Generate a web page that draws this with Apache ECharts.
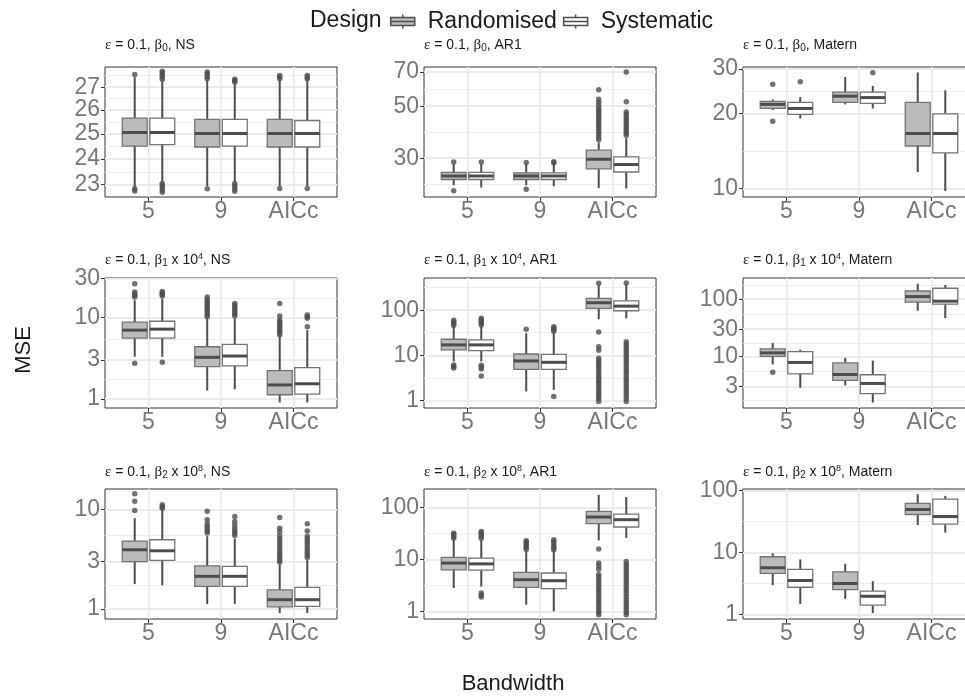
<!DOCTYPE html>
<html>
<head>
<meta charset="utf-8">
<title>MSE by bandwidth</title>
<script src="https://cdn.jsdelivr.net/npm/echarts@6/dist/echarts.min.js"></script>
<style>
  html, body { margin: 0; padding: 0; background: #fff; }
  #main { width: 965px; height: 696px; }
</style>
</head>
<body>
<div id="main"></div>
<script>
var categories = ['5', '9', 'AICc'];

// five-number summaries [min, q1, median, q3, max] for bandwidth 5, 9, AICc
// outliers listed per bandwidth
var b0NsRand = [[22.9, 24.51, 25.06, 25.66, 27.45], [22.95, 24.47, 25.02, 25.61, 27.3], [22.95, 24.47, 25.02, 25.61, 27.3]];
var b0NsSys = [[23.1, 24.57, 25.06, 25.66, 27.3], [23.1, 24.51, 25.02, 25.61, 27.15], [22.95, 24.47, 25.02, 25.56, 27.3]];
var b0NsRandOut = [[27.57, 22.85, 22.76], [27.38, 27.48, 27.6, 27.68, 22.85], [27.38, 27.45, 27.52, 22.86]];
var b0NsSysOut = [[27.35, 27.45, 27.55, 27.65, 27.72, 23.05, 22.98, 22.9, 22.8, 22.72], [27.22, 27.3, 27.35, 23.05, 22.95, 22.85, 22.75], [27.38, 27.45, 27.52, 22.86]];

var b0Ar1Rand = [[23.0, 24.35, 25.2, 26.1, 28.4], [23.0, 24.35, 25.2, 26.0, 28.3], [22.4, 27.0, 29.7, 32.5, 35]];
var b0Ar1Sys = [[22.5, 24.35, 25.2, 26.1, 28.5], [22.8, 24.35, 25.2, 26.0, 28.4], [22.3, 26.2, 28.2, 30.4, 36.5]];
var b0Ar1RandOut = [[28.9, 21.8], [28.8, 22.1], [36, 37, 38, 39, 40, 41, 42, 43, 44, 45, 46, 47, 48, 49, 50.5, 52, 53.5, 58.8]];
var b0Ar1SysOut = [[28.9], [28.7, 29.0], [37.5, 38.3, 39.2, 40, 41, 42, 43, 44, 45, 46.2, 47.3, 52.3, 70]];

var b0MatRand = [[20.6, 20.9, 21.7, 22.3, 22.7], [21.7, 22.1, 23.4, 24.3, 27.9], [11.65, 14.8, 16.6, 22.1, 29.1]];
var b0MatSys = [[19.05, 19.8, 20.9, 22.1, 23.2], [20.9, 21.9, 23.1, 24.3, 25.7], [9.78, 13.9, 16.6, 19.9, 24.7]];
var b0MatRandOut = [[26.1, 18.6], [], []];
var b0MatSysOut = [[26.7], [29.0], []];

var b1NsRand = [[3.3, 5.59, 7.0, 8.77, 16.3], [1.27, 2.5, 3.25, 4.38, 9.7], [0.91, 1.13, 1.49, 2.23, 5.8]];
var b1NsSys = [[3.3, 5.6, 7.2, 9.0, 17.0], [1.32, 2.55, 3.37, 4.68, 9.8], [0.91, 1.15, 1.54, 2.43, 7.0]];
var b1NsRandOut = [[17.8, 18.8, 19.6, 20.5, 26.0, 2.75], [10.2, 10.8, 11.5, 12.2, 13, 13.8, 14.7, 15.6, 16.6, 17.8], [6.1, 6.5, 6.9, 7.3, 7.8, 8.3, 8.8, 9.3, 10.4, 14.8]];
var b1NsSysOut = [[18.3, 19.2, 20.0, 20.9, 2.83], [10.4, 11.0, 11.7, 12.4, 13.2, 14.0, 14.8], [7.7, 9.8, 10.3, 10.7]];

var b1Ar1Rand = [[7.3, 13.2, 17, 22.7, 43], [1.58, 4.9, 7.5, 10.7, 31], [62.7, 110, 146, 182, 360]];
var b1Ar1Sys = [[7.3, 12.7, 17, 21.9, 44], [1.72, 4.9, 7.0, 10.5, 31], [66, 97, 123, 161, 370]];
var b1Ar1RandOut = [[46, 50, 55, 60, 6.1, 5.6, 5.2], [37.7], [395, 33, 15.5, 13, 8.6, 7.6, 6.7, 5.9, 5.2, 4.6, 4.0, 3.5, 3.1, 2.7, 2.4, 2.1, 1.85, 1.6, 1.4, 1.25, 1.1, 0.95]];
var b1Ar1SysOut = [[47, 51, 56, 61, 66, 6.0, 5.5, 5.0, 3.5], [34, 37, 40, 43, 1.22], [400, 20, 17.5, 15.5, 13.5, 12, 10.5, 9.3, 8.2, 7.2, 6.3, 5.5, 4.8, 4.2, 3.7, 3.2, 2.8, 2.45, 2.15, 1.9, 1.65, 1.45, 1.27, 1.1, 0.95]];

var b1MatRand = [[7.3, 10.1, 11.6, 13.6, 17.3], [3.14, 3.84, 4.87, 7.76, 9.5], [62.7, 88.7, 111, 139, 186]];
var b1MatSys = [[2.87, 5.0, 7.9, 12.2, 13.2], [1.58, 2.26, 3.4, 4.82, 8.5], [46.8, 81.8, 92.3, 155, 177]];
var b1MatRandOut = [[5.35], [], []];
var b1MatSysOut = [[], [], []];

var b2NsRand = [[1.78, 3.0, 3.94, 4.82, 8.2], [1.12, 1.69, 2.13, 2.72, 5.4], [0.91, 1.05, 1.24, 1.56, 2.79]];
var b2NsSys = [[1.73, 3.08, 3.85, 4.97, 9.9], [1.12, 1.69, 2.13, 2.68, 5.1], [0.91, 1.06, 1.24, 1.65, 3.1]];
var b2NsRandOut = [[9.8, 12.1, 14.4], [5.8, 6.1, 6.4, 6.8, 7.2, 7.9, 9.6], [2.95, 3.1, 3.3, 3.5, 3.7, 3.95, 4.2, 4.5, 4.8, 5.1, 5.5, 6.0, 6.5, 8.3]];
var b2NsSysOut = [[10.3, 10.7, 11.2], [5.5, 5.8, 6.1, 6.5, 7.0, 7.6, 8.5], [3.3, 3.5, 3.7, 3.95, 4.2, 4.5, 4.8, 5.1, 5.4, 6.1, 7.2]];

var b2Ar1Rand = [[2.82, 6.3, 8.5, 10.9, 23.9], [1.35, 2.9, 4.07, 5.62, 14.3], [23.2, 48.6, 65.3, 83.8, 175]];
var b2Ar1Sys = [[3.0, 6.2, 8.2, 10.6, 24], [1.0, 2.73, 3.89, 5.47, 14.5], [25.8, 42, 58, 74.6, 158.8]];
var b2Ar1RandOut = [[25.5, 27.5, 30, 32], [15.5, 17, 18.5, 20, 21.5, 22.9], [15.9, 8.5, 7.5, 6.5, 5.1, 4.6, 4.1, 3.6, 3.2, 2.8, 2.5, 2.2, 1.95, 1.72, 1.52, 1.35, 1.2, 1.06, 0.95, 0.86]];
var b2Ar1SysOut = [[25.5, 27.5, 30, 32.5, 34.5, 2.26, 2.05, 1.89], [15.3, 16.5, 18, 20, 22, 23.9], [9.1, 8.1, 7.2, 6.4, 5.7, 5.1, 4.5, 4.0, 3.6, 3.2, 2.8, 2.5, 2.2, 1.95, 1.72, 1.52, 1.35, 1.2, 1.06, 0.95, 0.86]];

var b2MatRand = [[2.99, 4.62, 5.71, 8.6, 9.75], [1.8, 2.54, 3.18, 4.92, 6.63], [28, 41.3, 49.8, 62.3, 88]];
var b2MatSys = [[1.49, 2.77, 3.56, 5.36, 7.8], [1.06, 1.42, 1.98, 2.39, 3.47], [21.1, 28.8, 38.3, 73.1, 82.6]];
var b2MatRandOut = [[], [], []];
var b2MatSysOut = [[], [], []];

// log10 y scales: limits, labelled breaks, minor gridlines (panel order row by row)
var yLimits = [[22.54, 27.91], [20.5, 73.5], [9.26, 30.6], [0.777, 30.5], [0.68, 516], [1.27, 234], [0.793, 16.1], [0.714, 226], [0.851, 106.6]];
var yBreaks = [[23, 24, 25, 26, 27], [30, 50, 70], [10, 20, 30], [1, 3, 10, 30], [1, 10, 100], [3, 10, 30, 100], [1, 3, 10], [1, 10, 100], [1, 10, 100]];
var yMinor = [[23.49, 24.49, 25.5, 26.5, 27.55], [23.2, 38.7, 59.2], [14.14, 24.49], [1.73, 5.48, 17.3], [3.16, 31.6, 316], [1.73, 5.48, 17.3, 54.8, 173], [1.73, 5.48], [3.16, 31.6], [3.16, 31.6]];

var stripTitles = [
    '{e|ε}{t| = 0.1, }{e|β}{sub|0}{t|, NS}',
    '{e|ε}{t| = 0.1, }{e|β}{sub|0}{t|, AR1}',
    '{e|ε}{t| = 0.1, }{e|β}{sub|0}{t|, Matern}',
    '{e|ε}{t| = 0.1, }{e|β}{sub|1}{t| x 10}{sup|4}{t|, NS}',
    '{e|ε}{t| = 0.1, }{e|β}{sub|1}{t| x 10}{sup|4}{t|, AR1}',
    '{e|ε}{t| = 0.1, }{e|β}{sub|1}{t| x 10}{sup|4}{t|, Matern}',
    '{e|ε}{t| = 0.1, }{e|β}{sub|2}{t| x 10}{sup|8}{t|, NS}',
    '{e|ε}{t| = 0.1, }{e|β}{sub|2}{t| x 10}{sup|8}{t|, AR1}',
    '{e|ε}{t| = 0.1, }{e|β}{sub|2}{t| x 10}{sup|8}{t|, Matern}'
];

var panels = [
    [b0NsRand, b0NsSys, b0NsRandOut, b0NsSysOut],
    [b0Ar1Rand, b0Ar1Sys, b0Ar1RandOut, b0Ar1SysOut],
    [b0MatRand, b0MatSys, b0MatRandOut, b0MatSysOut],
    [b1NsRand, b1NsSys, b1NsRandOut, b1NsSysOut],
    [b1Ar1Rand, b1Ar1Sys, b1Ar1RandOut, b1Ar1SysOut],
    [b1MatRand, b1MatSys, b1MatRandOut, b1MatSysOut],
    [b2NsRand, b2NsSys, b2NsRandOut, b2NsSysOut],
    [b2Ar1Rand, b2Ar1Sys, b2Ar1RandOut, b2Ar1SysOut],
    [b2MatRand, b2MatSys, b2MatRandOut, b2MatSysOut]
];

var FONT = "'Liberation Sans', Arial, Helvetica, sans-serif";
var SERIF = "'Liberation Serif', 'DejaVu Serif', serif";
var DARK = '#4D4D4D';
var BOX_EDGE = '#737373';
var GRID = '#EBEBEB';
var LABEL = '#777777';
var FILL_RAND = '#BBBBBE';
var FILL_SYS = '#FFFFFF';
var DODGE = 0.19;      // half distance between the two boxes of one bandwidth
var HALF = 0.172;      // half box width, x units
var colLeft = [105, 424, 743];
var rowTop = [67, 278, 489];
var stripTop = [37, 252, 464];
var PANEL_W = 232, PANEL_H = 130;
var KEY_ICON = 'path://M0,3H24V11H0Z M0,7H24 M12,0V3 M12,11V14';

function boxRenderer(fill) {
    return function (params, api) {
        var x = api.value(0);
        var q1 = api.coord([x - HALF, api.value(2)]);
        var q3 = api.coord([x + HALF, api.value(4)]);
        var med = api.coord([x, api.value(3)]);
        var top = api.coord([x, api.value(5)]);
        var bot = api.coord([x, api.value(1)]);
        return {
            type: 'group',
            children: [
                { type: 'line', shape: { x1: med[0], y1: q3[1], x2: med[0], y2: top[1] }, style: { stroke: DARK, lineWidth: 2 } },
                { type: 'line', shape: { x1: med[0], y1: q1[1], x2: med[0], y2: bot[1] }, style: { stroke: DARK, lineWidth: 2 } },
                { type: 'rect', shape: { x: q1[0], y: q3[1], width: q3[0] - q1[0], height: q1[1] - q3[1] }, style: { fill: fill, stroke: BOX_EDGE, lineWidth: 1.3 } },
                { type: 'line', shape: { x1: q1[0], y1: med[1], x2: q3[0], y2: med[1] }, style: { stroke: DARK, lineWidth: 3 } }
            ]
        };
    };
}

function boxData(stats, offset) {
    return stats.map(function (s, i) { return [i + offset].concat(s); });
}

function outData(out, offset) {
    var pts = [];
    out.forEach(function (vals, i) {
        vals.forEach(function (v) { pts.push([i + offset, v]); });
    });
    return pts;
}

var stripRich = {
    t: { fontSize: 14, lineHeight: 16, fontWeight: 'normal', fontFamily: FONT, color: '#1A1A1A' },
    e: { fontSize: 15, lineHeight: 16, fontWeight: 'normal', fontFamily: SERIF, color: '#1A1A1A' },
    sub: { fontSize: 10, lineHeight: 9, fontWeight: 'normal', verticalAlign: 'bottom', fontFamily: FONT, color: '#1A1A1A' },
    sup: { fontSize: 9, lineHeight: 9, fontWeight: 'normal', verticalAlign: 'top', fontFamily: FONT, color: '#1A1A1A' }
};

var grids = [], xAxes = [], yAxes = [], series = [], titles = [];

panels.forEach(function (p, k) {
    var row = Math.floor(k / 3), col = k % 3;
    grids.push({
        left: colLeft[col], top: rowTop[row], width: PANEL_W, height: PANEL_H,
        show: true, backgroundColor: '#FFFFFF', borderColor: '#333333', borderWidth: 1,
        containLabel: false, outerBoundsMode: 'none'
    });
    xAxes.push({
        gridIndex: k, type: 'value', min: -0.6, max: 2.6, position: 'bottom',
        axisLine: { show: false, onZero: false },
        axisTick: { show: true, length: 4, lineStyle: { color: '#333333' }, customValues: [0, 1, 2] },
        axisLabel: {
            customValues: [0, 1, 2], margin: 3, fontSize: 23, color: LABEL, fontFamily: FONT,
            formatter: function (v) { return categories[Math.round(v)]; }
        },
        splitLine: { show: true, lineStyle: { color: GRID, width: 1.8 } }
    });
    yAxes.push({
        gridIndex: k, type: 'log', logBase: 10, min: yLimits[k][0], max: yLimits[k][1], position: 'left',
        axisLine: { show: false, onZero: false },
        axisTick: { show: true, length: 4, lineStyle: { color: '#333333' }, customValues: yBreaks[k] },
        axisLabel: {
            customValues: yBreaks[k], margin: 5, fontSize: 23, color: LABEL, fontFamily: FONT,
            formatter: function (v) { return String(+v.toPrecision(3)); }
        },
        splitLine: { show: true, lineStyle: { color: GRID, width: 1.8 } }
    });
    yAxes.push({
        gridIndex: k, type: 'log', logBase: 10, min: yLimits[k][0], max: yLimits[k][1], position: 'left',
        axisLine: { show: false, onZero: false },
        axisTick: { show: false, customValues: yMinor[k] },
        axisLabel: { show: false, customValues: yMinor[k] },
        splitLine: { show: true, lineStyle: { color: GRID, width: 0.9 } }
    });
    var common = { xAxisIndex: k, yAxisIndex: 2 * k };
    series.push(Object.assign({
        name: 'Randomised', type: 'custom', renderItem: boxRenderer(FILL_RAND),
        itemStyle: { color: FILL_RAND }, encode: { x: 0, y: [1, 2, 3, 4, 5] },
        data: boxData(p[0], -DODGE), z: 3
    }, common));
    series.push(Object.assign({
        name: 'Systematic', type: 'custom', renderItem: boxRenderer(FILL_SYS),
        itemStyle: { color: FILL_SYS }, encode: { x: 0, y: [1, 2, 3, 4, 5] },
        data: boxData(p[1], DODGE), z: 3
    }, common));
    series.push(Object.assign({
        name: 'Randomised', type: 'scatter', symbol: 'circle', symbolSize: 5.5,
        itemStyle: { color: DARK }, data: outData(p[2], -DODGE), z: 4
    }, common));
    series.push(Object.assign({
        name: 'Systematic', type: 'scatter', symbol: 'circle', symbolSize: 5.5,
        itemStyle: { color: DARK }, data: outData(p[3], DODGE), z: 4
    }, common));
    titles.push({
        left: colLeft[col], top: stripTop[row], padding: 0,
        text: stripTitles[k],
        textStyle: { fontWeight: 'normal', rich: stripRich }
    });
});

var chart = echarts.init(document.getElementById('main'));
chart.setOption({
    animation: false,
    backgroundColor: '#FFFFFF',
    title: titles,
    legend: {
        left: 390, top: 10, padding: 0, itemWidth: 24, itemHeight: 14, itemGap: 6,
        textStyle: { fontSize: 23, color: '#1A1A1A', fontFamily: FONT, padding: [0, 0, 0, 8] },
        data: [
            { name: 'Randomised', icon: KEY_ICON, itemStyle: { color: FILL_RAND, borderColor: DARK, borderWidth: 1.5 } },
            { name: 'Systematic', icon: KEY_ICON, itemStyle: { color: FILL_SYS, borderColor: DARK, borderWidth: 1.5 } }
        ]
    },
    grid: grids,
    xAxis: xAxes,
    yAxis: yAxes,
    series: series,
    graphic: [
        { type: 'text', x: 310, y: 21, style: { text: 'Design', fontSize: 23, fontFamily: FONT, fill: '#1A1A1A', align: 'left', verticalAlign: 'middle' } },
        { type: 'text', x: 24, y: 350, rotation: Math.PI / 2, style: { text: 'MSE', fontSize: 22, fontFamily: FONT, fill: '#1A1A1A', align: 'center', verticalAlign: 'middle' } },
        { type: 'text', x: 513, y: 684, style: { text: 'Bandwidth', fontSize: 22, fontFamily: FONT, fill: '#1A1A1A', align: 'center', verticalAlign: 'middle' } }
    ]
});
window.addEventListener('resize', function () { chart.resize(); });
</script>
</body>
</html>
